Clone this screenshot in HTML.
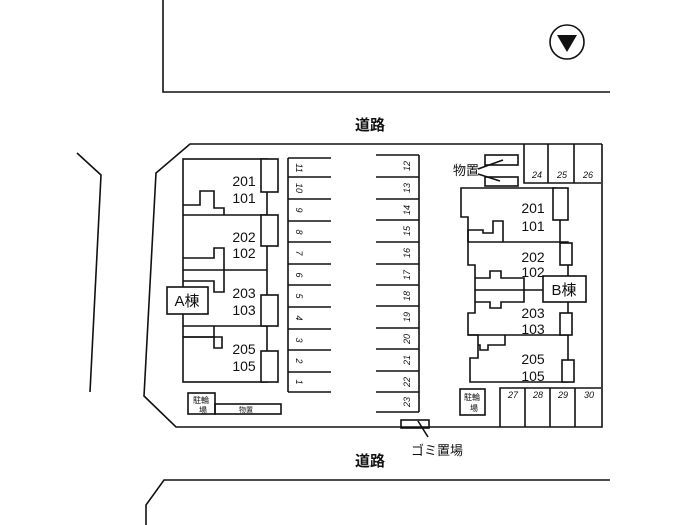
<!DOCTYPE html>
<html><head><meta charset="utf-8"><style>
body{margin:0;background:#fff;}
svg{display:block}
text{font-family:"Liberation Sans","Noto Sans CJK JP",sans-serif;fill:#111}
</style></head><body>
<svg width="700" height="525" viewBox="0 0 700 525" xmlns="http://www.w3.org/2000/svg">
<g fill="none" stroke="#111" stroke-width="1.6">
<!-- roads -->
<polyline points="163,0 163,92 610,92"/>
<polyline points="77,153 101,175 90,392"/>
<polyline points="180,480 610,480"/>
<polyline points="180,480 164,480 146,505 146,525"/>
<!-- lot -->
<polyline points="602,144 190,144 156,173 144,396 176,427 602,427 602,144"/>
<!-- Building A -->
<rect x="183" y="159" width="84" height="223"/>
<line x1="183" y1="215" x2="267" y2="215"/>
<line x1="183" y1="270" x2="267" y2="270"/>
<line x1="183" y1="326" x2="267" y2="326"/>
<rect x="261" y="159" width="17" height="33" fill="#fff"/>
<rect x="261" y="215" width="17" height="31" fill="#fff"/>
<rect x="261" y="295" width="17" height="31" fill="#fff"/>
<rect x="261" y="351" width="17" height="31" fill="#fff"/>
<polyline points="183,205 200,205 200,191 214,191 214,208 224,208 224,215"/>
<polyline points="183,258 214,258 214,248 224,248 224,292 214,292 214,281 183,281"/>
<polyline points="183,337 214,337 214,326"/>
<polyline points="183,337 222,337 222,348 214,348 214,337"/>
<rect x="167" y="287" width="41" height="27" fill="#fff"/>
<!-- parking left -->
<line x1="288" y1="158" x2="288" y2="392"/>
<g>
<line x1="288" y1="158" x2="331" y2="158"/><line x1="288" y1="177" x2="331" y2="177"/>
<line x1="288" y1="199" x2="331" y2="199"/><line x1="288" y1="221" x2="331" y2="221"/>
<line x1="288" y1="242" x2="331" y2="242"/><line x1="288" y1="264" x2="331" y2="264"/>
<line x1="288" y1="285" x2="331" y2="285"/><line x1="288" y1="307" x2="331" y2="307"/>
<line x1="288" y1="329" x2="331" y2="329"/><line x1="288" y1="350" x2="331" y2="350"/>
<line x1="288" y1="372" x2="331" y2="372"/><line x1="288" y1="392" x2="331" y2="392"/>
</g>
<!-- parking right -->
<line x1="419" y1="155" x2="419" y2="412"/>
<g>
<line x1="376" y1="155" x2="419" y2="155"/><line x1="376" y1="177" x2="419" y2="177"/>
<line x1="376" y1="199" x2="419" y2="199"/><line x1="376" y1="220" x2="419" y2="220"/>
<line x1="376" y1="242" x2="419" y2="242"/><line x1="376" y1="264" x2="419" y2="264"/>
<line x1="376" y1="285" x2="419" y2="285"/><line x1="376" y1="306" x2="419" y2="306"/>
<line x1="376" y1="328" x2="419" y2="328"/><line x1="376" y1="349" x2="419" y2="349"/>
<line x1="376" y1="371" x2="419" y2="371"/><line x1="376" y1="392" x2="419" y2="392"/>
<line x1="376" y1="412" x2="419" y2="412"/>
</g>
<!-- building B -->
<polyline points="556,188 461,188 461,217 468,217 468,265 475,265 475,313 468,313 468,335 478,335 478,358 470,358 470,382 568,382 568,242 560,242 560,220"/>
<line x1="468" y1="242" x2="560" y2="242"/>
<line x1="468" y1="335" x2="568" y2="335"/>
<rect x="553" y="188" width="15" height="32" fill="#fff"/>
<rect x="560" y="243" width="12" height="22" fill="#fff"/>
<rect x="560" y="313" width="12" height="22" fill="#fff"/>
<rect x="562" y="360" width="12" height="22" fill="#fff"/>
<polyline points="468,242 468,230 483,230 483,233 493,233 493,221 503,221 503,242"/>
<polyline points="475,278 490,278 490,271 501,271 501,278 524,278 524,302 501,302 501,308 490,308 490,302 475,302"/>
<line x1="475" y1="290" x2="543" y2="290"/>
<polyline points="478,345 480,345 480,350 488,350 488,345 505,345 505,335"/>
<rect x="543" y="276" width="43" height="26" fill="#fff"/>
<!-- stalls 24-26 -->
<polyline points="524,144 524,183 601,183"/>
<line x1="548" y1="144" x2="548" y2="183"/><line x1="574" y1="144" x2="574" y2="183"/>
<!-- stalls 27-30 -->
<polyline points="500,427 500,388 601,388"/>
<line x1="525" y1="388" x2="525" y2="427"/><line x1="550" y1="388" x2="550" y2="427"/><line x1="575" y1="388" x2="575" y2="427"/>
<!-- storage B -->
<rect x="485" y="155" width="33" height="10"/>
<rect x="485" y="177" width="33" height="9"/>
<line x1="478" y1="169" x2="503" y2="160"/>
<line x1="478" y1="174" x2="500" y2="181"/>
<rect x="460" y="389" width="25" height="26"/>
<!-- bike/storage A -->
<rect x="188" y="393" width="27" height="21"/>
<rect x="215" y="404" width="66" height="10"/>
<!-- gomi -->
<rect x="401" y="420" width="28" height="8"/>
<line x1="418" y1="421" x2="428" y2="437"/>
<!-- north mark -->
<circle cx="567" cy="42" r="17"/>
</g>
<polygon points="557,35 577,35 567,52" fill="#111"/>
<g font-size="14" text-anchor="middle">
<text x="370" y="130" font-size="15" font-weight="bold">道路</text>
<text x="370" y="466" font-size="15" font-weight="bold">道路</text>
<text x="437" y="455" font-size="13">ゴミ置場</text>
<text x="244" y="186">201</text><text x="244" y="203">101</text>
<text x="244" y="242">202</text><text x="244" y="258">102</text>
<text x="244" y="298">203</text><text x="244" y="315">103</text>
<text x="244" y="354">205</text><text x="244" y="371">105</text>
<text x="187" y="306" font-size="15">A棟</text>
<text x="533" y="213">201</text><text x="533" y="231">101</text>
<text x="533" y="262">202</text><text x="533" y="277">102</text>
<text x="533" y="318">203</text><text x="533" y="334">103</text>
<text x="533" y="364">205</text><text x="533" y="381">105</text>
<text x="564" y="295" font-size="15">B棟</text>
<text x="466" y="175" font-size="13">物置</text>
<text x="201" y="403" font-size="8">駐輪</text><text x="203" y="413" font-size="8">場</text>
<text x="246" y="412" font-size="7">物置</text>
<text x="472" y="400" font-size="8">駐輪</text><text x="474" y="411" font-size="8">場</text>
<g font-size="9" font-style="italic">
<text x="537" y="178">24</text><text x="562" y="178">25</text><text x="588" y="178">26</text>
<text x="513" y="398">27</text><text x="538" y="398">28</text><text x="563" y="398">29</text><text x="589" y="398">30</text>
</g>
<g font-size="9" font-style="italic">
<text transform="translate(296,168) rotate(90)">11</text>
<text transform="translate(296,188) rotate(90)">10</text>
<text transform="translate(296,210) rotate(90)">9</text>
<text transform="translate(296,232) rotate(90)">8</text>
<text transform="translate(296,253) rotate(90)">7</text>
<text transform="translate(296,275) rotate(90)">6</text>
<text transform="translate(296,296) rotate(90)">5</text>
<text transform="translate(296,318) rotate(90)">4</text>
<text transform="translate(296,340) rotate(90)">3</text>
<text transform="translate(296,361) rotate(90)">2</text>
<text transform="translate(296,382) rotate(90)">1</text>
<text transform="translate(410,166) rotate(-90)">12</text>
<text transform="translate(410,188) rotate(-90)">13</text>
<text transform="translate(410,210) rotate(-90)">14</text>
<text transform="translate(410,231) rotate(-90)">15</text>
<text transform="translate(410,253) rotate(-90)">16</text>
<text transform="translate(410,275) rotate(-90)">17</text>
<text transform="translate(410,296) rotate(-90)">18</text>
<text transform="translate(410,317) rotate(-90)">19</text>
<text transform="translate(410,339) rotate(-90)">20</text>
<text transform="translate(410,360) rotate(-90)">21</text>
<text transform="translate(410,382) rotate(-90)">22</text>
<text transform="translate(410,402) rotate(-90)">23</text>
</g>
</g>
</svg>
</body></html>
